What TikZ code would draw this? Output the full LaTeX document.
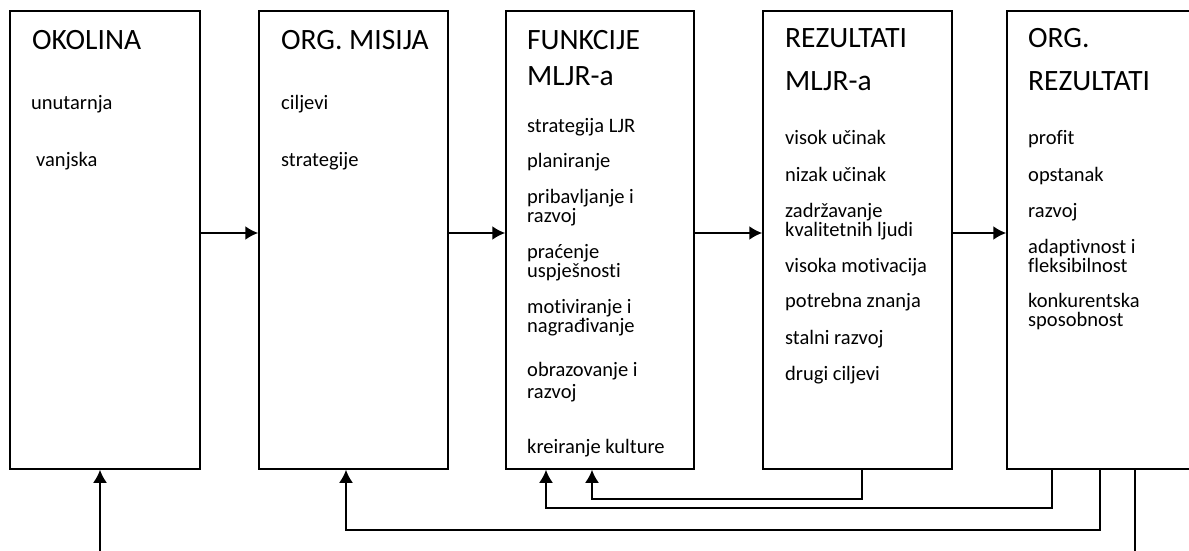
\documentclass[tikz,border=0pt]{standalone}
\usepackage{fontspec}
\setmainfont{Carlito}[Ligatures=NoCommon]
\usetikzlibrary{arrows.meta}

\tikzset{
  box/.style={draw,line width=1.5pt,minimum width=189pt,minimum height=458pt,inner sep=0pt},
  title/.style={anchor=base west,inner sep=0pt,font=\fontsize{29.5}{31}\selectfont},
  item/.style={anchor=base west,inner sep=0pt,align=left,font=\fontsize{20.5}{19}\selectfont},
  arr/.style={-{Latex[length=13pt,width=14pt]},line width=2pt},
  fb/.style={line width=2pt}
}

\begin{document}
\begin{tikzpicture}[x=1pt,y=-1pt]
\useasboundingbox (0,0) rectangle (1189,551);

% boxes
\node [box,minimum width=190pt] (okolina) at (105,240) {};
\node [box] (misija) at (353.5,240) {};
\node [box,minimum width=188pt] (funkcije) at (600,240) {};
\node [box] (rezultati) at (857.5,240) {};
\node [box] (orgrez) at (1101.5,240) {};

% texts (two-line items sit on their last baseline)
\node [title] (t1) at (32,50) {OKOLINA};
\node [item] at (31,110) {unutarnja};
\node [item] at (36,166) {vanjska};

\node [title] (t2) at (281,50) {ORG. MISIJA};
\node [item] at (281,110) {ciljevi};
\node [item] at (281,166) {strategije};

\node [title] (t3) at (527,50) {FUNKCIJE};
\node [title] at (527,85) {MLJR-a};
\node [item] at (527,132) {strategija LJR};
\node [item] at (527,167) {planiranje};
\node [item] at (527,222) {pribavljanje i\\razvoj};
\node [item] at (527,277) {praćenje\\uspješnosti};
\node [item] at (527,332) {motiviranje i\\nagrađivanje};
\node [item] at (527,376) {obrazovanje i};
\node [item] at (527,398) {razvoj};
\node [item] at (527,453) {kreiranje kulture};

\node [title] (t4) at (785,48) {REZULTATI};
\node [title] at (785,91) {MLJR-a};
\node [item] at (785,144) {visok učinak};
\node [item] at (785,181) {nizak učinak};
\node [item] at (785,236) {zadržavanje\\kvalitetnih ljudi};
\node [item] at (785,272) {visoka motivacija};
\node [item] at (785,307) {potrebna znanja};
\node [item] at (785,344) {stalni razvoj};
\node [item] at (785,380) {drugi ciljevi};

\node [title] (t5) at (1028,48) {ORG.};
\node [title] at (1028,91) {REZULTATI};
\node [item] at (1028,144) {profit};
\node [item] at (1028,181) {opstanak};
\node [item] at (1028,217) {razvoj};
\node [item] at (1028,272) {adaptivnost i\\fleksibilnost};
\node [item] at (1028,326) {konkurentska\\sposobnost};

% forward arrows
\draw [arr] ([yshift=7pt]okolina.east) -- ([yshift=7pt]misija.west);
\draw [arr] ([yshift=7pt]misija.east) -- ([yshift=7pt]funkcije.west);
\draw [arr] ([yshift=7pt]funkcije.east) -- ([yshift=7pt]rezultati.west);
\draw [arr] ([yshift=7pt]rezultati.east) -- ([yshift=7pt]orgrez.west);

% feedback
\draw [fb,arr] ([xshift=4.5pt]rezultati.south) -- ++(0,29) -| ([xshift=-8pt]funkcije.south);
\draw [fb,arr] ([xshift=-49.5pt]orgrez.south) -- ++(0,38) -| ([xshift=-54pt]funkcije.south);
\draw [fb,arr] ([xshift=-1.5pt]orgrez.south) -- ++(0,60) -| ([xshift=-7.5pt]misija.south);

% in and out
\coordinate (ulaz) at (100,551);
\coordinate (izlaz) at (1135,551);
\draw [arr] (ulaz) -- (ulaz |- okolina.south);
\draw [fb] ([xshift=33.5pt]orgrez.south) -- (izlaz);
\end{tikzpicture}
\end{document}
